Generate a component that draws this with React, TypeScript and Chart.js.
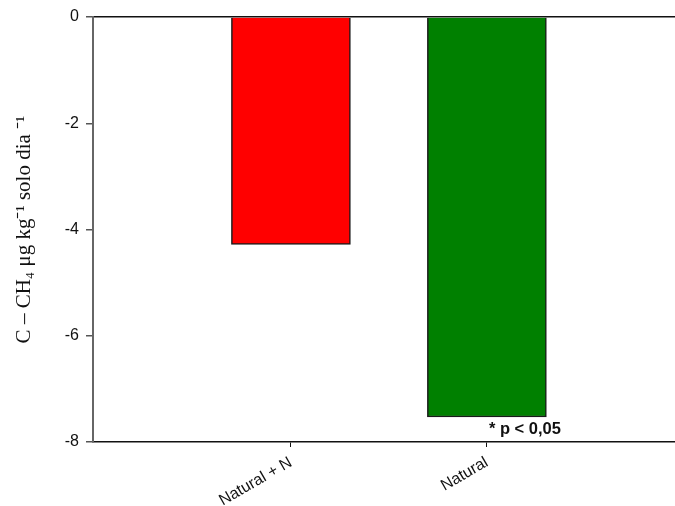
import React, { useEffect, useRef } from "react";
import { Chart, registerables } from "chart.js";

Chart.register(...registerables);

const categories = ["Natural + N", "Natural"];
const positions = [1, 2];
const values = [-4.28, -7.53];
const barColors = ["#ff0000", "#008000"];
const yTicks = [0, -2, -4, -6, -8];
const annotationText = "* p < 0,05";
const yTitle = "C – CH₄ μg kg⁻¹ solo dia ⁻¹";

const annotationPlugin = {
  id: "pAnnot",
  afterDatasetsDraw(chart: any) {
    const { ctx, scales } = chart;
    const x = scales.x.getPixelForValue(positions[1]) + 2;
    const y = scales.y.getPixelForValue(values[1]) + 12;
    ctx.save();
    ctx.font = "bold 16.5px 'Liberation Sans', Arial, sans-serif";
    ctx.fillStyle = "#111";
    ctx.textAlign = "left";
    ctx.textBaseline = "middle";
    ctx.fillText(annotationText, x, y);
    ctx.restore();
  },
};

export default function App() {
  const ref = useRef<HTMLCanvasElement | null>(null);
  useEffect(() => {
    document.body.style.margin = "0";
    const chart = new Chart(ref.current as HTMLCanvasElement, {
      type: "bar",
      data: {
        datasets: [
          {
            data: positions.map((p, i) => ({ x: p, y: values[i] })),
            backgroundColor: barColors,
            borderColor: "#1a1a1a",
            borderWidth: 1.5,
            barThickness: 119,
          },
        ],
      },
      options: {
        animation: false,
        responsive: false,
        layout: { padding: { top: 17, right: 0, left: 0, bottom: 0 } },
        plugins: { legend: { display: false }, tooltip: { enabled: false } },
        scales: {
          x: {
            type: "linear",
            offset: false,
            min: -0.01,
            max: 2.96,
            afterBuildTicks: (scale: any) => {
              scale.ticks = positions.map((v) => ({ value: v }));
            },
            afterFit: (scale: any) => {
              scale.height = 64;
            },
            ticks: {
              autoSkip: false,
              minRotation: 30,
              maxRotation: 30,
              padding: 6,
              color: "#111",
              font: { family: "'Liberation Sans', Arial, sans-serif", size: 16 },
              callback: (_v: any, i: number) => categories[i],
            },
            grid: {
              display: true,
              offset: false,
              drawOnChartArea: false,
              drawTicks: true,
              tickLength: 5,
              color: "#111",
            },
            border: { display: true, color: "#111", width: 1.5 },
          },
          y: {
            min: -8,
            max: 0,
            afterBuildTicks: (scale: any) => {
              scale.ticks = yTicks.map((v) => ({ value: v }));
            },
            afterFit: (scale: any) => {
              scale.width = 93;
            },
            ticks: {
              padding: 7,
              color: "#111",
              font: { family: "'Liberation Sans', Arial, sans-serif", size: 16 },
            },
            grid: {
              display: true,
              drawOnChartArea: true,
              drawTicks: true,
              tickLength: 7,
              color: (ctx: any) => (ctx.tick && ctx.tick.value === 0 ? "#111" : "rgba(0,0,0,0)"),
              tickColor: "#555",
              lineWidth: 1.5,
            },
            border: { display: true, color: "#666", width: 2 },
            title: {
              display: true,
              text: yTitle,
              color: "#111",
              padding: { top: 12, bottom: 0 },
              font: { family: "'Liberation Serif', 'Times New Roman', serif", size: 21 },
            },
          },
        },
      },
      plugins: [annotationPlugin],
    } as any);
    return () => chart.destroy();
  }, []);
  return <canvas ref={ref} width={675} height={506} style={{ display: "block" }} />;
}
